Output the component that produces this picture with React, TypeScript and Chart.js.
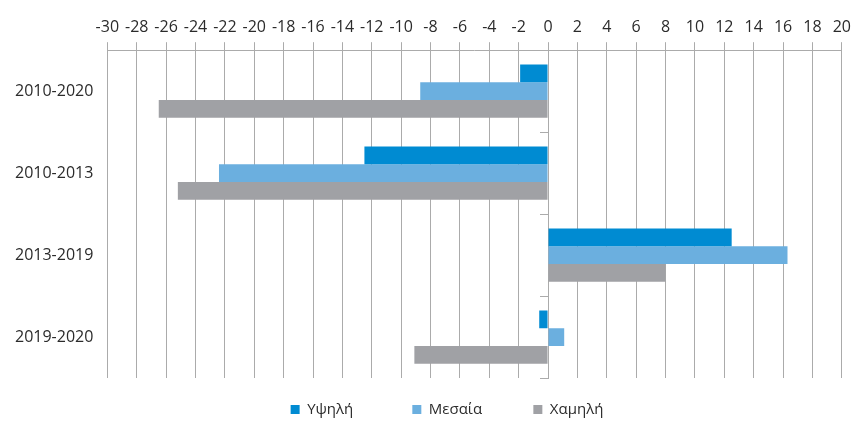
import React, { useEffect, useRef } from "react";
import { Chart, registerables } from "chart.js";

Chart.register(...registerables);

const categories = ["2010-2020", "2010-2013", "2013-2019", "2019-2020"];
const seriesNames = ["Υψηλή", "Μεσαία", "Χαμηλή"];
const highValues = [-1.9, -12.5, 12.5, -0.6];
const midValues = [-8.7, -22.4, 16.3, 1.1];
const lowValues = [-26.5, -25.2, 8.0, -9.1];
const seriesColors = ["#008BD2", "#6BAFDF", "#A0A1A5"];
const xMin = -30;
const xMax = 20;
const xStep = 2;

const GRID = "#ABABAB";
const TEXT = "#2B2B2B";
const FONT = "'Open Sans', 'Noto Sans', sans-serif";
const LEGEND_SPACERS = ["         ", "       ", ""];
const LEGEND_SHIFT = 24;

const legendShift = {
  id: "legendShift",
  afterLayout(chart: any) {
    if (chart.legend) {
      chart.legend.left += LEGEND_SHIFT;
      chart.legend.right += LEGEND_SHIFT;
    }
  },
};

export default function App() {
  const ref = useRef<HTMLCanvasElement | null>(null);

  useEffect(() => {
    if (!ref.current) return;
    const chart = new Chart(ref.current, {
      type: "bar",
      data: {
        labels: categories,
        datasets: [highValues, midValues, lowValues].map((vals, i) => ({
          label: seriesNames[i],
          data: vals,
          backgroundColor: seriesColors[i],
          borderWidth: 0,
          barPercentage: 1,
          categoryPercentage: 0.65,
        })),
      },
      options: {
        indexAxis: "y",
        animation: false,
        responsive: true,
        maintainAspectRatio: false,
        layout: { padding: { top: 13, right: 11, bottom: -6, left: 1 } },
        scales: {
          x: {
            position: "top",
            min: xMin,
            max: xMax,
            ticks: {
              stepSize: xStep,
              color: TEXT,
              padding: 5,
              minRotation: 0,
              maxRotation: 0,
              autoSkip: false,
              font: { family: FONT, size: 16 },
            },
            grid: { color: GRID, lineWidth: 1, tickLength: 8 },
            border: { display: true, color: GRID },
          },
          y: {
            ticks: {
              color: TEXT,
              padding: 14,
              font: { family: FONT, size: 16 },
            },
            grid: { display: false, drawTicks: false, tickLength: 0 },
            border: { display: false },
          },
          y2: {
            type: "category",
            axis: "y",
            position: { x: 0 },
            offset: true,
            ticks: { display: false },
            grid: {
              offset: true,
              drawOnChartArea: false,
              drawTicks: true,
              tickLength: 8,
              color: GRID,
            },
            border: { display: true, color: GRID },
          },
        } as any,
        plugins: {
          tooltip: { enabled: false },
          legend: {
            position: "bottom",
            labels: {
              boxWidth: 9,
              boxHeight: 9,
              padding: 24,
              color: TEXT,
              font: { family: FONT, size: 15 },
              generateLabels: (c: any) => {
                const items = Chart.defaults.plugins.legend.labels.generateLabels(c);
                return items.map((it: any, i: number) => ({
                  ...it,
                  lineWidth: 0,
                  text: it.text + (LEGEND_SPACERS[i] || ""),
                }));
              },
            },
          },
        },
      },
      plugins: [legendShift],
    });
    return () => chart.destroy();
  }, []);

  return (
    <div style={{ position: "absolute", left: 0, top: 0, width: 856, height: 421, background: "#fff" }}>
      <canvas ref={ref} />
    </div>
  );
}
